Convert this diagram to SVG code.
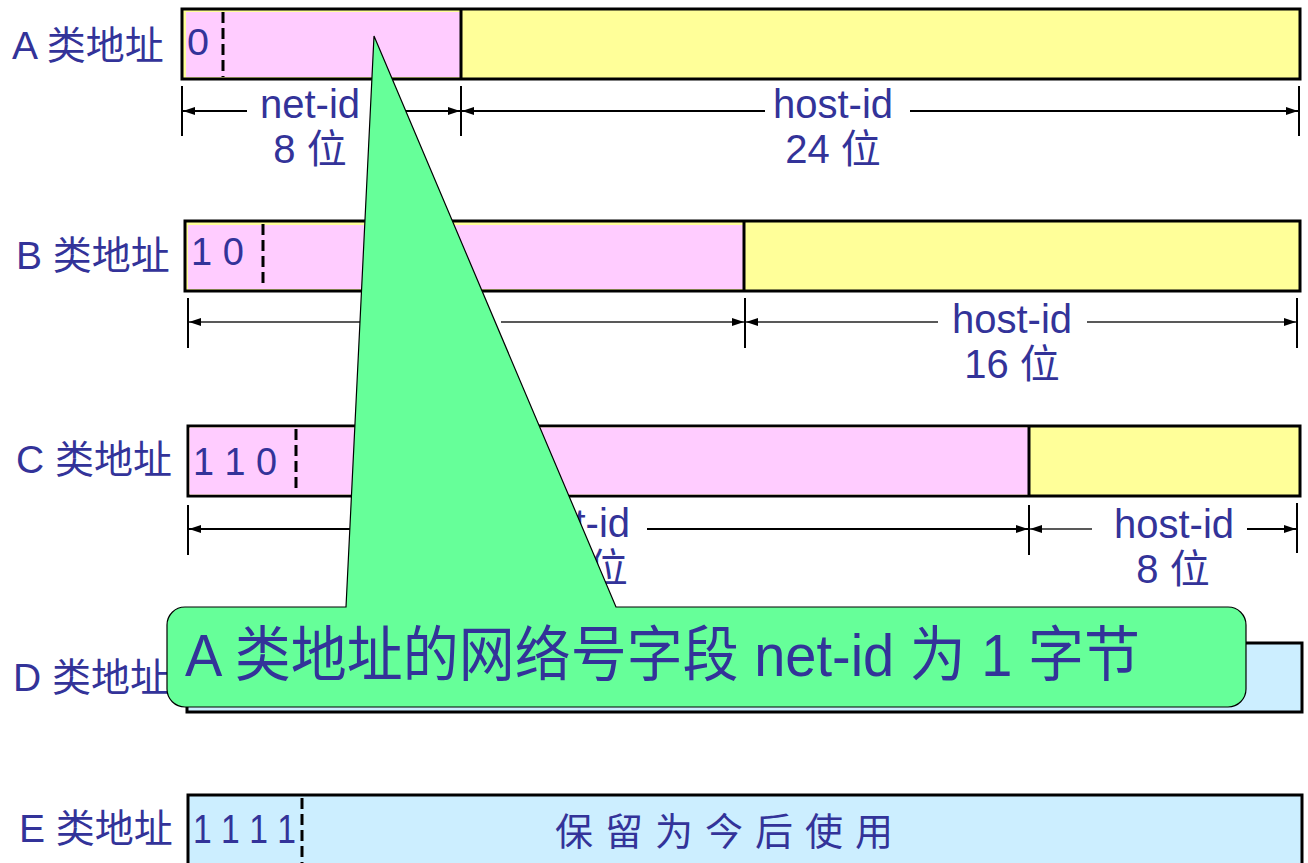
<svg xmlns="http://www.w3.org/2000/svg" width="1308" height="863" viewBox="0 0 1308 863">
<defs>
<marker id="arr" markerUnits="userSpaceOnUse" markerWidth="12" markerHeight="8" refX="12" refY="4" orient="auto">
<path d="M0,0 L12,4 L0,8 z" fill="#000"/>
</marker>
<style>
text{font-family:"Liberation Sans","Noto Sans CJK SC",sans-serif;fill:#333399}
.lbl{font-size:39px}
.dim{font-size:40px;text-anchor:middle}
.box{stroke:#000;stroke-width:3}
.div{stroke:#000;stroke-width:3}
.dash{stroke:#000;stroke-width:3;stroke-dasharray:11 5}
.tick{stroke:#000;stroke-width:2}
.dl{stroke:#000;stroke-width:2;fill:none;marker-end:url(#arr)}
.dlt{stroke:#222;stroke-width:1.5;fill:none;marker-end:url(#arr)}
</style>
</defs>
<rect width="1308" height="863" fill="#fff"/>

<g id="rowA">
<text class="lbl" x="12" y="59">A 类地址</text>
<rect class="box" x="182" y="9" width="1118" height="70" fill="#FFFF99"/>
<rect x="186" y="12" width="275" height="65" fill="#FFCCFF"/>
<line class="div" x1="461" y1="9" x2="461" y2="79"/>
<line class="dash" x1="223" y1="12" x2="223" y2="77"/>
<text x="187" y="55" style="font-size:36px" textLength="22" lengthAdjust="spacingAndGlyphs">0</text>
</g>

<g id="rowB">
<text class="lbl" x="16" y="269">B 类地址</text>
<rect class="box" x="185" y="221" width="1115" height="70" fill="#FFFF99"/>
<rect x="188" y="225" width="556" height="64" fill="#FFCCFF"/>
<line class="div" x1="744" y1="221" x2="744" y2="291"/>
<line class="dash" x1="263" y1="224" x2="263" y2="288"/>
<text x="191" y="265" style="font-size:38px">1 0</text>
</g>

<g id="rowC">
<text class="lbl" x="16" y="473">C 类地址</text>
<rect class="box" x="188" y="426" width="1112" height="70" fill="#FFFF99"/>
<rect x="189.5" y="427.5" width="839.5" height="67" fill="#FFCCFF"/>
<line class="div" x1="1029" y1="426" x2="1029" y2="496"/>
<line class="dash" x1="296" y1="429" x2="296" y2="493"/>
<text x="193" y="475" style="font-size:39px" textLength="84" lengthAdjust="spacingAndGlyphs">1 1 0</text>
</g>

<g id="connectors">
<line class="tick" x1="182" y1="86" x2="182" y2="136"/>
<line class="tick" x1="461" y1="86" x2="461" y2="136"/>
<line class="tick" x1="1299" y1="86" x2="1299" y2="136"/>
<line class="dl" x1="247" y1="111" x2="183" y2="111"/>
<line class="dl" x1="372" y1="111" x2="460" y2="111"/>
<line class="dl" x1="765" y1="111" x2="462" y2="111"/>
<line class="dl" x1="910" y1="111" x2="1298" y2="111"/>

<line class="tick" x1="188" y1="298" x2="188" y2="348"/>
<line class="tick" x1="745" y1="298" x2="745" y2="348"/>
<line class="tick" x1="1297" y1="298" x2="1297" y2="348"/>
<line class="dlt" x1="380" y1="322" x2="189" y2="322"/>
<line class="dlt" x1="501" y1="322" x2="744" y2="322"/>
<line class="dlt" x1="938" y1="322" x2="746" y2="322"/>
<line class="dlt" x1="1087" y1="322" x2="1296" y2="322"/>

<line class="tick" x1="188" y1="505" x2="188" y2="555"/>
<line class="tick" x1="1029" y1="505" x2="1029" y2="555"/>
<line class="tick" x1="1297" y1="503" x2="1297" y2="553"/>
<line class="dl" x1="515" y1="529" x2="189" y2="529"/>
<line class="dl" x1="647" y1="529" x2="1028" y2="529"/>
<line class="dlt" x1="1092" y1="529" x2="1030" y2="529"/>
<line class="dl" x1="1247" y1="529" x2="1296" y2="529"/>
</g>

<g id="labels">
<text class="dim" x="310" y="118">net-id</text>
<text class="dim" x="310" y="163">8 位</text>
<text class="dim" x="833" y="118">host-id</text>
<text class="dim" x="833" y="163">24 位</text>
<text class="dim" x="1012" y="333">host-id</text>
<text class="dim" x="1012" y="378">16 位</text>
<text class="dim" x="580" y="537">net-id</text>
<text class="dim" x="580" y="582">24 位</text>
<text class="dim" x="1174" y="538">host-id</text>
<text class="dim" x="1173" y="583">8 位</text>
</g>

<g id="rowD">
<text class="lbl" x="13" y="691">D 类地址</text>
<rect class="box" x="187" y="643" width="1115" height="69" fill="#CCEEFF"/>
<line class="dash" x1="310" y1="646" x2="310" y2="710"/>
</g>

<g id="rowE">
<text class="lbl" x="19" y="842">E 类地址</text>
<rect class="box" x="188" y="795" width="1114" height="80" fill="#CCEEFF"/>
<line class="dash" x1="302" y1="798" x2="302" y2="863"/>
<text x="193" y="843" style="font-size:40px" textLength="103" lengthAdjust="spacingAndGlyphs">1 1 1 1</text>
<text x="555" y="845" style="font-size:38px;letter-spacing:12px">保留为今后使用</text>
</g>

<g id="callout">
<path d="M185,607 L346,607 L374,36 L616,607 L1228,607 A18,18 0 0 1 1246,625 L1246,689 A18,18 0 0 1 1228,707 L185,707 A18,18 0 0 1 167,689 L167,625 A18,18 0 0 1 185,607 Z" fill="#66FF99" stroke="#000" stroke-width="1.2"/>
<text x="185" y="676" style="font-size:60px" textLength="955" lengthAdjust="spacingAndGlyphs">A 类地址的网络号字段 net-id 为 1 字节</text>
</g>
</svg>
